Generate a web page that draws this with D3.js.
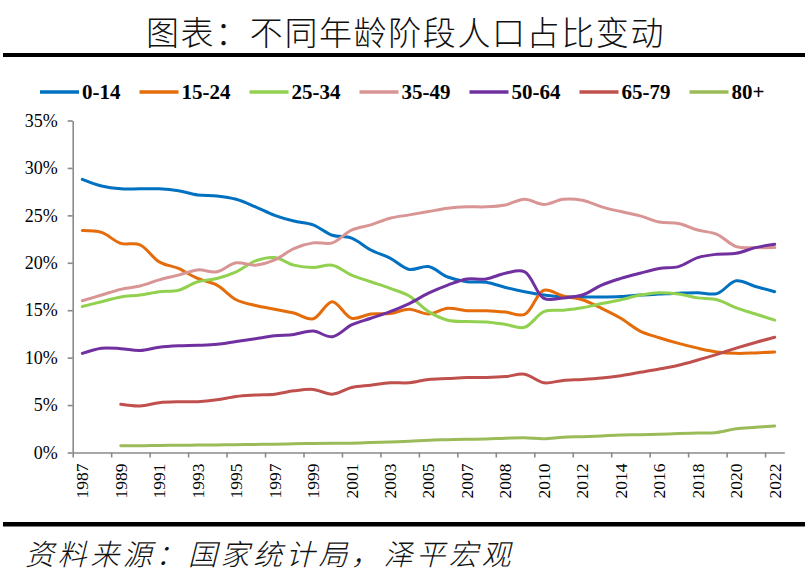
<!DOCTYPE html>
<html>
<head>
<meta charset="utf-8">
<script src="https://cdn.jsdelivr.net/npm/d3@7"></script>
<style>
  html, body { margin: 0; padding: 0; background: #fff; }
  svg { display: block; }
</style>
</head>
<body>
<svg id="chart" width="807" height="577"></svg>
<script>
// ---------------- data ----------------
const categories = ["1987","1988","1989","1990","1991","1992","1993","1994","1995","1996",
  "1997","1998","1999","2000","2001","2002","2003","2004","2005","2006","2007","2007",
  "2008","2009","2010","2011","2012","2013","2014","2015","2016","2017","2018","2019",
  "2020","2021","2022"];
const seriesNames = ["0-14","15-24","25-34","35-49","50-64","65-79","80+"];
const seriesColors = ["#0070C0","#E46C0A","#92D050","#D99594","#7030A0","#C0504D","#9BBB59"];

const age0_14 = [28.8,28.1,27.8,27.8,27.8,27.6,27.15,27.05,26.7,25.9,25.0,24.4,24.0,
  22.9,22.6,21.35,20.5,19.3,19.6,18.5,18.0,17.95,17.4,16.95,16.6,16.4,16.4,16.4,16.45,
  16.6,16.7,16.8,16.85,16.75,18.1,17.5,16.95];
const age15_24 = [23.4,23.2,22.05,21.9,20.1,19.4,18.35,17.65,16.1,15.5,15.1,14.7,14.1,
  15.9,14.15,14.6,14.65,15.1,14.6,15.2,14.95,14.95,14.8,14.55,17.1,16.5,16.1,15.2,14.15,
  12.8,12.1,11.5,11.0,10.6,10.45,10.5,10.6];
const age25_34 = [15.4,15.9,16.4,16.6,16.95,17.1,18.0,18.35,19.05,20.2,20.55,19.75,19.5,
  19.75,18.7,18.0,17.3,16.5,14.85,13.95,13.8,13.75,13.5,13.2,14.85,15.0,15.25,15.7,16.1,
  16.6,16.85,16.7,16.3,16.1,15.25,14.6,13.95];
const age35_49 = [16.0,16.6,17.2,17.55,18.2,18.7,19.25,19.05,20.0,19.75,20.3,21.5,22.1,
  22.1,23.45,24.0,24.7,25.05,25.4,25.75,25.9,25.9,26.1,26.7,26.15,26.7,26.6,25.9,25.4,
  24.95,24.3,24.15,23.45,23.0,21.7,21.6,21.6];
const age50_64 = [10.45,11.0,10.95,10.75,11.1,11.25,11.3,11.4,11.7,12.0,12.3,12.45,12.8,
  12.2,13.45,14.15,14.85,15.7,16.8,17.65,18.3,18.3,18.9,19.05,16.25,16.3,16.6,17.65,18.35,
  18.9,19.4,19.6,20.55,20.9,21.0,21.6,21.95];
const age65_79 = [null,null,5.08,4.9,5.25,5.35,5.35,5.55,5.9,6.05,6.15,6.5,6.65,
  6.15,6.85,7.1,7.35,7.35,7.7,7.8,7.9,7.9,8.0,8.25,7.35,7.6,7.7,7.85,8.1,
  8.45,8.8,9.2,9.75,10.35,11.0,11.6,12.15];
const age80plus = [null,null,0.72,0.70,0.75,0.76,0.78,0.80,0.82,0.85,0.88,0.92,0.95,
  0.97,0.98,1.05,1.12,1.18,1.3,1.35,1.4,1.42,1.5,1.55,1.45,1.62,1.67,1.75,1.84,
  1.87,1.92,2.0,2.05,2.12,2.5,2.65,2.8];
const seriesValues = [age0_14, age15_24, age25_34, age35_49, age50_64, age65_79, age80plus];
const yTicks = [0,5,10,15,20,25,30,35];
const titleText = "图表：不同年龄阶段人口占比变动";
const sourceText = "资料来源：国家统计局，泽平宏观";

// ---------------- layout ----------------
const svg = d3.select("#chart");
const W = 807;
const plot = { left: 72.7, right: 784.3, top: 120.5, bottom: 452.5 };
const serif = "'Liberation Serif','Times New Roman',serif";
const cjk = "'Noto Sans CJK SC','Noto Sans CJK JP',sans-serif";
const axisColor = "#8a8a8a";

// title
svg.append("text")
  .attr("x", W / 2 + 2).attr("y", 45)
  .attr("text-anchor", "middle")
  .style("font-family", cjk).style("font-size", "33px").style("font-weight", 300)
  .style("letter-spacing", "1.6px")
  .attr("fill", "#111")
  .text(titleText);
svg.append("rect").attr("x", 3).attr("y", 53).attr("width", 802).attr("height", 4).attr("fill", "#000");

// bottom rule + source
svg.append("rect").attr("x", 3).attr("y", 522).attr("width", 802).attr("height", 4.5).attr("fill", "#000");
svg.append("text")
  .attr("x", 25).attr("y", 565)
  .style("font-family", cjk).style("font-size", "29px").style("font-style", "italic").style("font-weight", 300)
  .style("letter-spacing", "3.6px")
  .attr("fill", "#111")
  .text(sourceText);

// scales
const xBand = d3.scaleBand().domain(d3.range(categories.length)).range([plot.left, plot.right]).padding(0);
const xEdge = d3.scaleLinear().domain([0, categories.length]).range([plot.left, plot.right]);
const xc = i => xBand(i) + xBand.bandwidth() / 2;
const y = d3.scaleLinear().domain([0, 35]).range([plot.bottom, plot.top]);

// y axis
const yAxis = svg.append("g").attr("transform", `translate(${plot.left},0)`)
  .call(d3.axisLeft(y).tickValues(yTicks).tickFormat(d => d + "%").tickSize(5).tickSizeOuter(0).tickPadding(10));
yAxis.select(".domain").attr("stroke", axisColor).attr("stroke-width", 1.6);
yAxis.selectAll(".tick line").attr("stroke", axisColor).attr("stroke-width", 1.6);
yAxis.selectAll(".tick text").style("font-family", serif).style("font-size", "18px").attr("fill", "#000");

// x axis (tick marks between categories every 2)
const xAxis = svg.append("g").attr("transform", `translate(0,${plot.bottom})`)
  .call(d3.axisBottom(xEdge).tickValues(d3.range(0, categories.length, 2)).tickFormat("").tickSize(5).tickSizeOuter(0));
xAxis.select(".domain").attr("stroke", axisColor).attr("stroke-width", 1.6);
xAxis.selectAll(".tick line").attr("stroke", axisColor).attr("stroke-width", 1.6);

// x labels at category centres
svg.append("g").selectAll("text")
  .data(d3.range(0, categories.length, 2))
  .join("text")
  .attr("transform", i => `translate(${xc(i)},${plot.bottom + 11}) rotate(-90)`)
  .attr("text-anchor", "end")
  .attr("dy", "0.34em")
  .style("font-family", serif).style("font-size", "17.5px")
  .attr("fill", "#000")
  .text(i => categories[i]);

// lines
const line = d3.line()
  .defined(d => d.v !== null)
  .x(d => xc(d.i))
  .y(d => y(d.v))
  .curve(d3.curveCatmullRom.alpha(0.5));

seriesValues.forEach((vals, s) => {
  svg.append("path")
    .datum(vals.map((v, i) => ({ i, v })))
    .attr("d", line)
    .attr("fill", "none")
    .attr("stroke", seriesColors[s])
    .attr("stroke-width", 3)
    .attr("stroke-linejoin", "round")
    .attr("stroke-linecap", "round");
});

// legend
const legend = svg.append("g");
let lx = 40;
const ly = 92;
seriesNames.forEach((name, s) => {
  legend.append("line")
    .attr("x1", lx).attr("x2", lx + 39).attr("y1", ly).attr("y2", ly)
    .attr("stroke", seriesColors[s]).attr("stroke-width", 3.5);
  const t = legend.append("text")
    .attr("x", lx + 42).attr("y", ly).attr("dy", "0.35em")
    .style("font-family", serif).style("font-size", "21px").style("font-weight", "bold")
    .attr("fill", "#000")
    .text(name);
  const w = t.node().getComputedTextLength();
  lx = lx + 42 + w + 19;
});
</script>
</body>
</html>
